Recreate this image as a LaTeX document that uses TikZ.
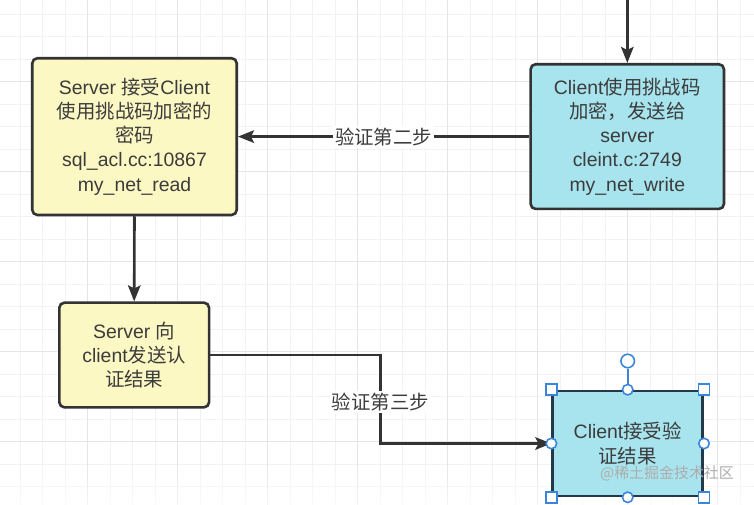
\documentclass[tikz,border=0pt]{standalone}
\usepackage{fontspec}
\setmainfont{Liberation Sans}
\newfontfamily\cjk{Noto Sans CJK SC}
\usetikzlibrary{arrows.meta,fadings}
\definecolor{gridminor}{HTML}{F2F2F2}
\definecolor{gridmajor}{HTML}{E5E5E5}
\definecolor{ybg}{HTML}{FCF8C4}
\definecolor{cbg}{HTML}{A8E4EE}
\definecolor{edge}{HTML}{333333}
\definecolor{txt}{HTML}{3C3C3C}
\definecolor{sel}{HTML}{3B86DA}
\definecolor{dnavy}{HTML}{24384C}
\tikzfading[name=fadebottom, top color=transparent!100, bottom color=transparent!35]
\begin{document}
\begin{tikzpicture}[x=1bp,y=-1bp,
  box/.style={draw=edge, line width=2.6bp, rounded corners=5bp, align=center, text=txt, font=\fontsize{19.5}{24.3}\selectfont, inner sep=0pt},
  ybox/.style={box, fill=ybg},
  cbox/.style={box, fill=cbg},
  conn/.style={draw=edge, line width=2.6bp, -{Stealth[length=16bp,width=12.5bp,inset=3bp]}},
  lbl/.style={fill=white, text=txt, font=\cjk\fontsize{19.5}{24}\selectfont, inner sep=2bp},
  hsq/.style={draw=sel, fill=white, line width=1.6bp, minimum size=11bp, inner sep=0pt, rectangle},
  hci/.style={draw=sel, fill=white, line width=1.6bp, minimum size=10.5bp, inner sep=0pt, circle},
  gmin/.style={draw=gridminor, line width=1bp},
  gmaj/.style={draw=gridmajor, line width=1.2bp}
]
\useasboundingbox (0,0) rectangle (754,505);
\fill[white] (0,0) rectangle (754,505);
% grid
\foreach \i in {0,...,33} {\draw[gmin] ({20.2+22.5*\i},0) -- ({20.2+22.5*\i},505);}
\foreach \j in {0,...,22} {\draw[gmin] (0,{14.2+22.5*\j}) -- (754,{14.2+22.5*\j});}
\foreach \i in {1,...,8} {\draw[gmaj] ({-2.3+90*\i},0) -- ({-2.3+90*\i},505);}
\foreach \j in {0,...,4} {\draw[gmaj] (0,{81.7+90*\j}) -- (754,{81.7+90*\j});}
\fill[white, path fading=fadebottom] (0,462) rectangle (754,505);

% boxes
\node[ybox, minimum width=204.4bp, minimum height=156.7bp] (A) at (134.5,136.6)
  {Server {\cjk 接受}Client\\{\cjk 使用挑战码加密的}\\{\cjk 密码}\\sql\_acl.cc:10867\\my\_net\_read};
\node[cbox, minimum width=193.3bp, minimum height=144.7bp] (B) at (627.3,136.6)
  {Client{\cjk 使用挑战码}\\{\cjk 加密，发送给}\\server\\cleint.c:2749\\my\_net\_write};
\node[ybox, minimum width=149.7bp, minimum height=104.6bp] (C) at (134.2,355)
  {Server {\cjk 向}\\client{\cjk 发送认}\\{\cjk 证结果}};
\node[cbox, draw=dnavy, rounded corners=0pt, minimum width=150bp, minimum height=105bp] (D) at (627.7,443.5)
  {Client{\cjk 接受验}\\{\cjk 证结果}};

% connectors
\coordinate (top) at (627.3,0);
\coordinate (mid) at (380.5,402);
\draw[conn] (top) -- (B.north);
\draw[conn] (B.west) -- node[lbl] (l2) {验证第二步} (A.east);
\draw[conn] (A.south) -- (C.north);
\draw[conn] (C.east) -| (mid) |- (D.west);
\node[lbl] (l3) at (mid) {验证第三步};

% selection handles
\node[hci, minimum size=13.5bp] (rot) at (627.7,361) {};
\node[hsq] (hnw) at (D.north west) {};
\node[hsq] (hne) at (D.north east) {};
\node[hsq] (hsw) at (D.south west) {};
\node[hsq] (hse) at (D.south east) {};
\node[hci] (hn) at (D.north) {};
\node[hci] (hs) at (D.south) {};
\node[hci] (hw) at (D.west) {};
\node[hci] (he) at (D.east) {};
\draw[sel, line width=1.6bp] (rot.south) -- (hn.north);

% watermark
\node[text=black!32, font=\cjk\fontsize{15}{15}\selectfont, inner sep=0pt] (wm) at (667,473) {@稀土掘金技术社区};
\end{tikzpicture}
\end{document}
